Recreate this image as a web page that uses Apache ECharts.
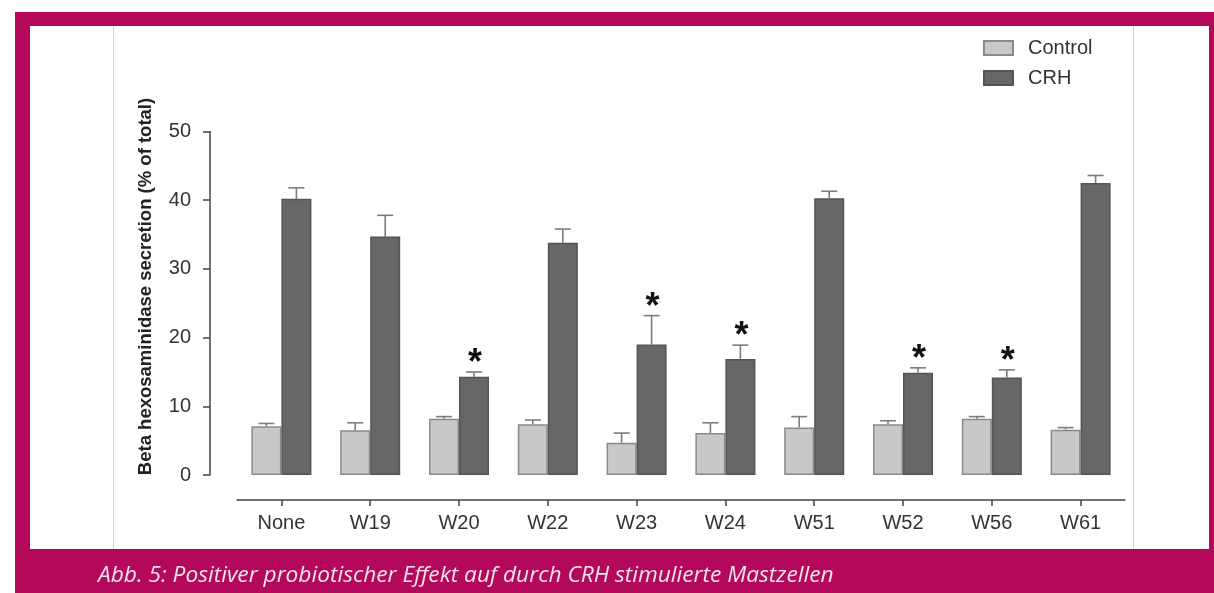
<!DOCTYPE html>
<html>
<head>
<meta charset="utf-8">
<script src="https://cdn.jsdelivr.net/npm/echarts@6/dist/echarts.min.js"></script>
<style>
html,body{margin:0;padding:0;background:#ffffff;}
#chart{width:1214px;height:593px;}
</style>
</head>
<body>
<div id="chart"></div>
<script>
const categories = ['None', 'W19', 'W20', 'W22', 'W23', 'W24', 'W51', 'W52', 'W56', 'W61'];
const controlValues = [7.1, 6.5, 8.2, 7.4, 4.7, 6.1, 6.9, 7.4, 8.2, 6.6];
const controlErrors = [0.4, 1.1, 0.3, 0.6, 1.4, 1.5, 1.6, 0.5, 0.3, 0.3];
const crhValues = [40.2, 34.7, 14.3, 33.8, 19.0, 16.9, 40.3, 14.9, 14.2, 42.5];
const crhErrors = [1.6, 3.1, 0.7, 2.0, 4.2, 2.0, 1.0, 0.7, 1.1, 1.1];
const significant = [false, false, true, false, true, true, false, true, true, false];
const seriesNames = ['Control', 'CRH'];
const yTitle = 'Beta hexosaminidase secretion (% of total)';
const caption = 'Abb. 5: Positiver probiotischer Effekt auf durch CRH stimulierte Mastzellen';

const BAR_FRAC = 0.338;
const MAGENTA = '#b4085a';
const FONT = '"Liberation Sans", Arial, sans-serif';

function errRender(side) {
  return function (params, api) {
    const idx = api.value(0);
    const v = api.value(1);
    const e = api.value(2);
    const sig = api.value(3);
    const band = api.size([1, 0])[0];
    const bw = band * BAR_FRAC;
    const xc = api.coord([idx, 0])[0] + side * bw / 2;
    const yBase = api.coord([idx, v])[1];
    const yTop = api.coord([idx, v + e])[1];
    const capHalf = 8;
    const style = { stroke: '#7c7c7c', lineWidth: 1.6 };
    const children = [
      { type: 'line', shape: { x1: xc, y1: yBase, x2: xc, y2: yTop }, style: style },
      { type: 'line', shape: { x1: xc - capHalf, y1: yTop, x2: xc + capHalf, y2: yTop }, style: style }
    ];
    if (sig) {
      children.push({
        type: 'text',
        style: {
          text: '*', x: xc + 1, y: yTop + 10,
          align: 'center', verticalAlign: 'bottom',
          fontSize: 36, fontWeight: 'bold', fontFamily: FONT,
          fill: '#111'
        }
      });
    }
    return { type: 'group', children: children };
  };
}

const chart = echarts.init(document.getElementById('chart'), null, { renderer: 'canvas' });
const option = {
  animation: false,
  textStyle: { fontFamily: FONT },
  graphic: [
    { type: 'rect', z: -10, shape: { x: 15, y: 12, width: 1199, height: 581 }, style: { fill: MAGENTA } },
    { type: 'rect', z: -9, shape: { x: 30, y: 26, width: 1179, height: 523 }, style: { fill: '#ffffff' } },
    { type: 'line', z: -8, shape: { x1: 113.5, y1: 26, x2: 113.5, y2: 549 }, style: { stroke: '#d2d2d2', lineWidth: 1 } },
    { type: 'line', z: -8, shape: { x1: 1133.5, y1: 26, x2: 1133.5, y2: 549 }, style: { stroke: '#d2d2d2', lineWidth: 1 } },
    {
      type: 'text', x: 146, y: 286.5, rotation: Math.PI / 2,
      style: {
        text: yTitle, align: 'center', verticalAlign: 'middle',
        fontSize: 18.5, fontWeight: 'bold', fill: '#222',
        fontFamily: FONT
      }
    },
    {
      type: 'text', x: 98, y: 576,
      style: {
        text: caption, align: 'left', verticalAlign: 'middle',
        fontSize: 22.7, fontStyle: 'italic', fill: '#f4e4ee',
        fontFamily: '"Open Sans", sans-serif'
      }
    }
  ],
  legend: {
    orient: 'vertical', left: 983, top: 38, padding: 0,
    itemWidth: 29, itemHeight: 14, itemGap: 10,
    icon: 'rect',
    data: seriesNames,
    textStyle: { fontSize: 20, color: '#333', lineHeight: 19, padding: [0, 0, 0, 10] }
  },
  grid: { left: 237, right: 89, top: 131.5, bottom: 118 },
  xAxis: {
    type: 'category', data: categories, offset: 25,
    axisLine: { onZero: false, lineStyle: { color: '#444', width: 1.5 } },
    axisTick: { show: true, alignWithLabel: true, length: 6, lineStyle: { color: '#444', width: 1.5 } },
    axisLabel: { fontSize: 20, color: '#333', margin: 13 }
  },
  yAxis: {
    type: 'value', min: 0, max: 50, interval: 10, offset: 27,
    axisLine: { show: true, onZero: false, lineStyle: { color: '#444', width: 1.5 } },
    axisTick: { show: true, length: 7, lineStyle: { color: '#444', width: 1.5 } },
    axisLabel: { fontSize: 20, color: '#333', margin: 19 },
    splitLine: { show: false }
  },
  series: [
    {
      name: seriesNames[0], type: 'bar', data: controlValues,
      barWidth: (BAR_FRAC * 100) + '%', barGap: '0%', z: 2,
      itemStyle: { color: '#c8c8c8', borderColor: '#8a8a8a', borderWidth: 1.5 }
    },
    {
      name: seriesNames[1], type: 'bar', data: crhValues,
      barWidth: (BAR_FRAC * 100) + '%', barGap: '0%', z: 2,
      itemStyle: { color: '#676767', borderColor: '#555555', borderWidth: 1.5 }
    },
    {
      type: 'custom', name: 'controlErr', z: 1,
      renderItem: errRender(-1),
      encode: { x: 0, y: 1 },
      data: categories.map((c, i) => [i, controlValues[i], controlErrors[i], 0])
    },
    {
      type: 'custom', name: 'crhErr', z: 1,
      renderItem: errRender(1),
      encode: { x: 0, y: 1 },
      data: categories.map((c, i) => [i, crhValues[i], crhErrors[i], significant[i] ? 1 : 0])
    }
  ]
};
chart.setOption(option);
</script>
</body>
</html>
